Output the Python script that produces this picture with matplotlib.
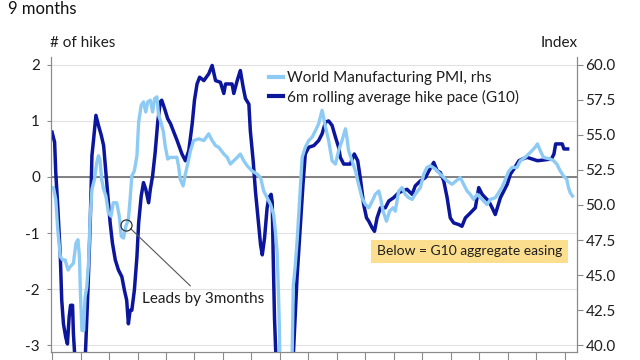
import matplotlib
matplotlib.use('Agg')
import matplotlib.pyplot as plt
from matplotlib.lines import Line2D

plt.rcParams['font.family'] = ['Lato', 'DejaVu Sans']
plt.rcParams['axes.unicode_minus'] = False

# 6m rolling average hike pace (G10), # of hikes (left axis)
hike_t = [2001.00, 2001.09, 2001.13, 2001.20, 2001.29, 2001.34, 2001.40, 2001.48, 2001.54, 2001.60,
          2001.65, 2001.72, 2001.75, 2001.81, 2002.16, 2002.26, 2002.34, 2002.40, 2002.46, 2002.54,
          2002.63, 2002.73, 2002.81, 2002.89, 2002.96, 2003.04, 2003.12, 2003.22, 2003.33, 2003.45,
          2003.54, 2003.62, 2003.68, 2003.74, 2003.80, 2003.89, 2003.98, 2004.04, 2004.13, 2004.21,
          2004.29, 2004.39, 2004.45, 2004.53, 2004.62, 2004.71, 2004.80, 2004.85, 2004.95, 2005.06,
          2005.16, 2005.39, 2005.56, 2005.68, 2005.80, 2005.92, 2006.00, 2006.09, 2006.18, 2006.33,
          2006.50, 2006.62, 2006.74, 2006.91, 2007.03, 2007.09, 2007.32, 2007.38, 2007.50, 2007.61,
          2007.71, 2007.79, 2007.91, 2007.96, 2008.06, 2008.14, 2008.22, 2008.32, 2008.38, 2008.46,
          2008.55, 2008.61, 2008.69, 2008.73, 2008.76, 2008.81, 2008.88, 2009.44, 2009.60, 2009.72,
          2009.81, 2009.89, 2010.01, 2010.19, 2010.36, 2010.48, 2010.60, 2010.71, 2010.83, 2010.95,
          2011.06, 2011.12, 2011.24, 2011.47, 2011.61, 2011.73, 2011.82, 2011.88, 2011.94, 2012.04,
          2012.12, 2012.24, 2012.32, 2012.41, 2012.53, 2012.70, 2012.82, 2012.99, 2013.17, 2013.46,
          2013.64, 2013.75, 2013.93, 2014.11, 2014.23, 2014.40, 2014.52, 2014.63, 2014.75, 2014.87,
          2014.98, 2015.10, 2015.28, 2015.39, 2015.51, 2015.63, 2015.86, 2015.98, 2016.10, 2016.21,
          2016.33, 2016.45, 2016.56, 2016.74, 2016.86, 2016.98, 2017.09, 2017.21, 2017.39, 2017.51,
          2017.68, 2018.04, 2018.53, 2018.62, 2018.68, 2018.91, 2018.97, 2019.10]
hike_v = [0.80, 0.62, 0.08, -0.52, -1.42, -2.20, -2.62, -2.86, -2.98, -2.50,
          -2.29, -2.29, -2.80, -3.30, -3.30, -2.02, -0.82, 0.38, 0.68, 1.10,
          0.92, 0.74, 0.56, 0.08, -0.34, -0.82, -1.18, -1.48, -1.66, -1.78,
          -2.02, -2.20, -2.62, -2.38, -2.38, -2.02, -1.42, -0.82, -0.34, -0.10,
          -0.22, -0.46, -0.22, 0.02, 0.44, 0.98, 1.34, 1.37, 1.22, 1.04,
          0.95, 0.65, 0.41, 0.29, 0.47, 0.95, 1.37, 1.66, 1.78, 1.72,
          1.84, 1.99, 1.72, 1.69, 1.49, 1.66, 1.66, 1.49, 1.72, 1.90,
          1.60, 1.40, 1.30, 0.83, 0.29, -0.25, -0.67, -1.21, -1.39, -1.09,
          -0.55, -0.37, -0.31, -0.45, -1.33, -2.53, -3.50, -3.50, -1.80, -0.85,
          -0.13, 0.41, 0.53, 0.56, 0.65, 0.77, 0.98, 1.00, 0.92, 0.71,
          0.53, 0.35, 0.23, 0.23, 0.41, 0.29, -0.01, -0.25, -0.49, -0.73,
          -0.79, -0.91, -0.97, -0.73, -0.55, -0.55, -0.43, -0.37, -0.28, -0.22,
          -0.31, -0.16, -0.07, -0.01, 0.11, 0.26, 0.11, 0.08, -0.07, -0.37,
          -0.73, -0.82, -0.85, -0.88, -0.73, -0.67, -0.55, -0.19, -0.31, -0.37,
          -0.43, -0.55, -0.67, -0.37, -0.25, -0.13, 0.05, 0.14, 0.29, 0.32,
          0.35, 0.29, 0.32, 0.41, 0.59, 0.59, 0.50, 0.50]

# World Manufacturing PMI, index (right axis)
pmi_t = [2001.05, 2001.13, 2001.20, 2001.29, 2001.37, 2001.46, 2001.56, 2001.64, 2001.75, 2001.84,
         2001.91, 2001.96, 2002.00, 2002.05, 2002.11, 2002.16, 2002.22, 2002.28, 2002.34, 2002.40,
         2002.49, 2002.57, 2002.63, 2002.68, 2002.74, 2002.81, 2002.89, 2002.98, 2003.07, 2003.15,
         2003.27, 2003.36, 2003.43, 2003.51, 2003.59, 2003.68, 2003.74, 2003.80, 2003.89, 2003.98,
         2004.04, 2004.13, 2004.21, 2004.29, 2004.36, 2004.45, 2004.53, 2004.60, 2004.68, 2004.74,
         2004.82, 2004.91, 2004.97, 2005.06, 2005.15, 2005.38, 2005.44, 2005.50, 2005.60, 2005.68,
         2005.76, 2005.86, 2005.97, 2006.15, 2006.33, 2006.50, 2006.62, 2006.74, 2006.85, 2007.03,
         2007.15, 2007.26, 2007.38, 2007.50, 2007.61, 2007.73, 2007.85, 2008.02, 2008.20, 2008.32,
         2008.43, 2008.55, 2008.67, 2008.78, 2008.84, 2008.90, 2008.94, 2008.98, 2009.02, 2009.40,
         2009.47, 2009.53, 2009.61, 2009.70, 2009.78, 2009.89, 2010.01, 2010.13, 2010.25, 2010.36,
         2010.48, 2010.60, 2010.71, 2010.83, 2010.95, 2011.06, 2011.18, 2011.30, 2011.35, 2011.41,
         2011.53, 2011.65, 2011.76, 2011.88, 2012.00, 2012.12, 2012.24, 2012.35, 2012.47, 2012.53,
         2012.62, 2012.74, 2012.85, 2012.97, 2013.05, 2013.17, 2013.29, 2013.40, 2013.52, 2013.64,
         2013.75, 2013.93, 2014.05, 2014.16, 2014.28, 2014.46, 2014.63, 2014.87, 2015.04, 2015.33,
         2015.45, 2015.57, 2015.68, 2015.80, 2015.92, 2016.04, 2016.15, 2016.27, 2016.39, 2016.56,
         2016.68, 2016.79, 2016.91, 2017.03, 2017.15, 2017.32, 2017.44, 2017.61, 2017.73, 2017.85,
         2017.96, 2018.04, 2018.14, 2018.25, 2018.49, 2018.61, 2018.72, 2018.84, 2018.95, 2019.07,
         2019.13, 2019.19, 2019.27]
pmi_v = [51.24, 50.40, 48.24, 46.32, 46.08, 46.08, 45.36, 45.60, 45.84, 47.28,
         47.52, 46.32, 43.44, 41.04, 41.04, 43.44, 44.16, 45.84, 49.20, 51.12,
         51.84, 53.04, 53.52, 53.28, 51.84, 51.12, 50.64, 49.44, 49.20, 50.16,
         50.16, 49.20, 47.76, 47.64, 48.48, 48.96, 50.40, 52.08, 52.44, 53.52,
         55.92, 57.12, 57.36, 56.64, 57.36, 57.48, 56.64, 57.60, 57.72, 56.40,
         55.92, 55.20, 54.24, 53.28, 53.40, 53.40, 52.80, 51.84, 51.36, 52.20,
         52.92, 53.88, 54.60, 54.72, 54.60, 55.08, 54.60, 54.24, 54.12, 53.64,
         53.40, 52.92, 53.16, 53.40, 53.64, 53.16, 52.80, 52.44, 52.20, 51.96,
         51.00, 50.52, 50.04, 49.32, 48.12, 46.68, 44.28, 41.40, 36.00, 36.00,
         44.28, 45.48, 47.64, 50.76, 53.40, 54.12, 54.60, 54.84, 55.32, 55.80,
         56.76, 55.56, 54.60, 53.16, 52.92, 53.88, 54.60, 55.44, 54.84, 53.88,
         53.16, 52.44, 51.48, 50.52, 50.04, 49.80, 50.28, 50.76, 51.00, 50.52,
         49.56, 48.84, 49.56, 49.80, 49.56, 51.00, 51.24, 50.76, 50.52, 50.40,
         50.76, 51.24, 52.20, 52.68, 52.80, 52.56, 52.20, 51.72, 51.48, 51.96,
         51.48, 51.00, 50.76, 50.40, 50.76, 50.52, 50.28, 50.04, 50.40, 50.52,
         50.88, 51.24, 51.80, 52.40, 52.68, 52.68, 53.16, 53.40, 53.64, 53.88,
         54.12, 54.36, 53.88, 53.40, 53.28, 53.16, 52.92, 52.44, 52.08, 51.84,
         51.24, 50.88, 50.64]

years = list(range(2001, 2020))
left_ticks = [2, 1, 0, -1, -2, -3]
right_ticks = [40.0, 42.5, 45.0, 47.5, 50.0, 52.5, 55.0, 57.5, 60.0]

light = '#8ecbf4'
dark = '#0c169c'
grey = '#8a8a8a'
txt = '#1e1e1e'

fig = plt.figure(figsize=(6.4, 3.6), dpi=100)
ax = fig.add_axes([0.080, 0.022, 0.8216, 0.8195])
ax2 = ax.twinx()

ylo, yhi = -3.125, 2.14
ax.set_ylim(ylo, yhi)
ax2.set_ylim(52 + 4 * ylo, 52 + 4 * yhi)
ax.set_xlim(2000.97, 2019.43)

ax.grid(axis='y', color='#e2e2e2', lw=0.8)
ax.set_axisbelow(True)
ax.axhline(0, color='#6e6e6e', lw=1.2, zorder=1)

ax.plot(hike_t, hike_v, color=dark, lw=2.5, zorder=3)
ax2.plot(pmi_t, pmi_v, color=light, lw=2.4, zorder=2)

ax.set_xticks(years)
ax.set_xticklabels([])
ax.set_yticks(left_ticks)
ax.set_yticklabels([str(v) for v in left_ticks])
ax2.set_yticks(right_ticks)
ax2.set_yticklabels(['%.1f' % v for v in right_ticks])

ax.tick_params(axis='x', length=6, color=grey, width=0.8)
ax.tick_params(axis='y', length=3, color=grey, width=0.8, pad=5, labelsize=11, labelcolor=txt)
ax2.tick_params(axis='y', length=4, color=grey, width=0.8, pad=2, labelsize=11, labelcolor=txt)

for a in (ax, ax2):
    a.spines['top'].set_visible(False)
    for s in ('left', 'right', 'bottom'):
        a.spines[s].set_color(grey)
        a.spines[s].set_linewidth(0.8)

handles = [Line2D([], [], color=light, lw=3), Line2D([], [], color=dark, lw=3)]
ax2.legend(handles, ['World Manufacturing PMI, rhs', '6m rolling average hike pace (G10)'],
           loc='upper left', bbox_to_anchor=(0.415, 0.953), frameon=False, fontsize=11,
           handlelength=0.9, handletextpad=0.25, borderpad=0, borderaxespad=0,
           labelspacing=0.3, labelcolor=txt)

# annotation drawn on the twin axis so it sits above both lines
ax2.plot([2003.61], [-0.85], 'o', ms=8, mfc='none', mec='#333333', mew=0.9,
         transform=ax.transData, zorder=5)
ax2.annotate('Leads by 3months', xy=(2003.61, -0.85), xytext=(2006.32, -2.17),
             xycoords=ax.transData, textcoords=ax.transData, ha='center', va='center',
             fontsize=11, color=txt,
             arrowprops=dict(arrowstyle='-', color='#555555', lw=0.8, shrinkA=3, shrinkB=4))

ax2.text(2015.65, -1.33, 'Below = G10 aggregate easing', transform=ax.transData,
         ha='center', va='center', fontsize=10, color=txt,
         bbox=dict(boxstyle='square,pad=0.42', fc='#fcdf8e', ec='none'))

fig.text(8 / 640, 1 - 9 / 360, '9 months', fontsize=12, color='#111111', va='center')
fig.text(50 / 640, 1 - 43 / 360, '# of hikes', fontsize=11, color=txt, va='center')
fig.text(578 / 640, 1 - 43 / 360, 'Index', fontsize=11, color=txt, va='center', ha='right')

fig.savefig('out.png', dpi=100)
